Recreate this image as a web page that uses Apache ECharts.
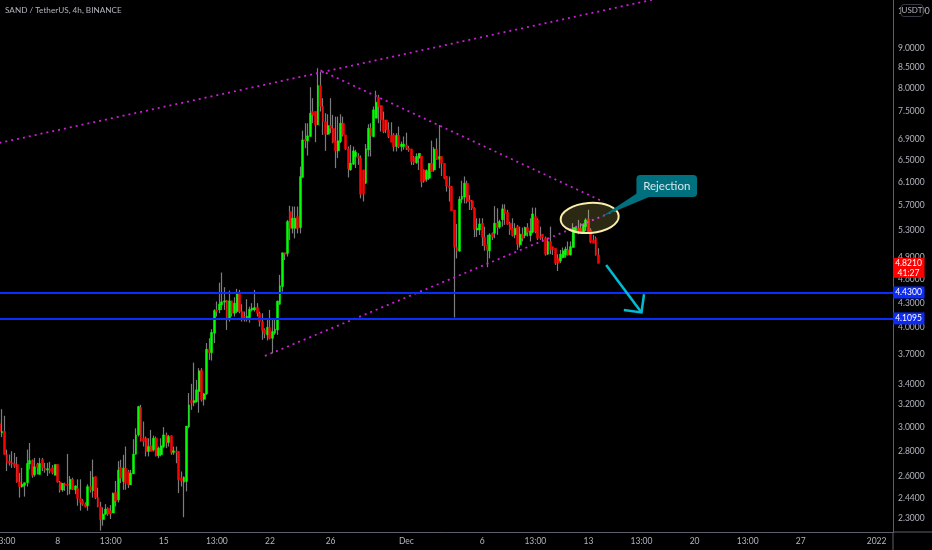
<!DOCTYPE html>
<html>
<head>
<meta charset="utf-8">
<title>SAND / TetherUS</title>
<style>
  html, body { margin: 0; padding: 0; background: #000; }
  #chart { width: 932px; height: 550px; }
</style>
<script src="https://cdn.jsdelivr.net/npm/echarts@6/dist/echarts.min.js"></script>
</head>
<body>
<div id="chart"></div>
<script>
// 4h bars, open / close / low / high
const candles = [
  [3.028,2.962,2.962,3.063],[2.948,2.962,2.914,3.159],[2.962,2.770,2.770,3.099],[2.770,2.704,2.640,2.810],
  [2.717,2.704,2.683,2.770],[2.704,2.696,2.665,2.797],[2.699,2.678,2.665,2.783],[2.691,2.558,2.553,2.751],
  [2.558,2.524,2.445,2.628],[2.524,2.541,2.517,2.665],[2.534,2.553,2.452,2.553],[2.553,2.699,2.524,2.810],
  [2.696,2.722,2.653,2.864],[2.722,2.608,2.590,2.730],[2.613,2.673,2.598,2.743],[2.691,2.670,2.615,2.704],
  [2.615,2.699,2.615,2.743],[2.730,2.665,2.640,2.743],[2.665,2.648,2.628,2.704],[2.648,2.658,2.603,2.704],
  [2.658,2.640,2.622,2.712],[2.665,2.628,2.615,2.686],[2.608,2.691,2.608,2.691],[2.691,2.558,2.553,2.691],
  [2.558,2.500,2.481,2.566],[2.500,2.548,2.486,2.548],[2.541,2.534,2.493,2.553],[2.541,2.534,2.462,2.775],
  [2.505,2.578,2.469,2.603],[2.578,2.505,2.500,2.590],[2.500,2.529,2.469,2.534],[2.510,2.439,2.388,2.578],
  [2.439,2.411,2.354,2.578],[2.422,2.399,2.388,2.434],[2.399,2.381,2.377,2.411],[2.388,2.524,2.354,2.541],
  [2.524,2.500,2.481,2.640],[2.493,2.595,2.445,2.730],[2.598,2.445,2.434,2.598],[2.445,2.381,2.377,2.517],
  [2.381,2.294,2.222,2.415],[2.294,2.331,2.254,2.377],[2.331,2.365,2.325,2.399],[2.370,2.331,2.320,2.377],
  [2.354,2.331,2.298,2.392],[2.338,2.476,2.338,2.481],[2.481,2.422,2.383,2.566],[2.429,2.648,2.411,2.717],
  [2.670,2.587,2.549,2.728],[2.562,2.663,2.501,2.768],[2.663,2.549,2.501,2.835],[2.637,2.537,2.513,2.650],
  [2.537,2.624,2.537,2.650],[2.619,2.773,2.619,2.896],[2.773,2.932,2.768,2.989],[2.932,3.183,2.918,3.190],
  [3.174,2.882,2.876,3.199],[2.904,2.876,2.835,3.048],[2.904,2.795,2.755,2.918],[2.795,2.835,2.755,2.904],
  [2.841,2.795,2.795,2.975],[2.808,2.904,2.795,2.926],[2.904,2.760,2.755,2.918],[2.760,2.822,2.741,2.835],
  [2.768,2.841,2.755,2.904],[2.835,2.932,2.822,2.999],[2.932,2.868,2.822,2.952],[2.868,2.918,2.835,2.932],
  [2.926,2.787,2.768,2.926],[2.787,2.800,2.768,2.835],[2.795,2.787,2.701,2.835],[2.795,2.574,2.477,2.795],
  [2.587,2.567,2.525,2.637],[2.557,2.594,2.310,2.600],[2.562,3.008,2.489,3.008],[3.002,3.198,2.989,3.310],
  [3.239,3.220,3.153,3.400],[3.220,3.239,3.186,3.615],[3.229,3.341,3.220,3.439],[3.325,3.530,3.127,3.558],
  [3.534,3.245,3.229,3.558],[3.251,3.303,3.192,3.310],[3.303,3.758,3.293,3.826],[3.758,3.722,3.644,3.880],
  [3.722,3.945,3.637,3.983],[3.937,4.204,3.825,4.220],[4.212,4.192,4.132,4.316],[4.212,4.283,4.172,4.558],
  [4.275,4.312,4.212,4.694],[4.308,4.324,4.212,4.498],[4.328,4.100,3.975,4.336],[4.100,4.324,4.072,4.455],
  [4.324,4.172,4.132,4.324],[4.172,4.295,4.132,4.370],[4.192,4.420,4.172,4.477],[4.420,4.192,4.172,4.464],
  [4.192,4.092,4.072,4.283],[4.132,4.120,4.072,4.192],[4.120,4.132,4.072,4.345],[4.120,4.220,4.060,4.252],
  [4.212,4.232,4.192,4.295],[4.212,4.240,4.192,4.464],[4.244,4.172,4.132,4.295],[4.172,4.072,4.013,4.192],
  [4.072,3.967,3.862,4.172],[3.975,3.929,3.880,3.994],[3.918,4.005,3.855,4.112],[4.005,3.880,3.869,4.212],
  [3.880,3.956,3.715,4.100],[3.937,3.983,3.918,4.112],[3.975,4.320,3.918,4.328],[4.283,4.516,4.275,4.662],
  [4.507,4.971,4.442,4.971],[4.971,4.951,4.868,4.971],[4.961,5.441,4.916,5.467],[5.600,5.336,5.159,5.695],
  [5.336,5.494,5.257,5.684],[5.336,5.494,5.183,5.684],[5.520,5.336,5.257,5.684],[5.347,6.198,5.257,6.380],
  [6.186,6.893,6.186,7.081],[6.908,6.875,6.730,7.235],[6.875,6.975,6.588,7.235],[6.962,7.448,6.962,8.030],
  [7.485,7.412,7.235,7.780],[7.485,7.200,6.848,7.485],[7.200,8.070,7.200,8.485],[8.070,7.594,7.485,8.400],
  [7.594,7.270,6.995,7.780],[7.270,7.008,6.678,7.448],[7.008,7.186,6.995,7.426],[7.186,7.130,7.030,7.780],
  [7.130,6.848,6.828,7.412],[6.875,6.678,6.352,7.375],[6.678,6.875,6.540,7.375],[6.862,7.235,6.828,7.426],
  [7.235,6.995,6.962,7.375],[6.995,6.717,6.698,6.995],[6.717,6.340,6.183,6.763],[6.322,6.443,6.304,6.795],
  [6.425,6.678,6.413,6.763],[6.570,6.653,6.352,6.698],[6.570,6.540,6.413,6.633],[6.540,5.890,5.820,6.590],
  [6.320,5.890,5.767,6.320],[6.081,6.717,6.064,6.810],[6.698,7.130,6.570,7.213],[7.130,6.975,6.570,7.235],
  [6.962,7.520,6.948,7.594],[7.340,7.690,7.340,7.950],[7.800,7.594,7.235,7.854],[7.615,7.305,7.063,7.615],
  [7.305,7.063,7.030,7.485],[7.305,7.096,7.030,7.305],[7.096,6.962,6.928,7.255],[6.982,6.848,6.848,7.255],
  [6.995,6.762,6.667,7.030],[6.762,6.982,6.667,7.030],[6.982,6.762,6.730,7.165],[6.762,6.810,6.667,6.860],
  [6.762,6.810,6.698,6.962],[6.790,6.730,6.696,7.040],[6.730,6.696,6.660,6.775],[6.716,6.473,6.410,6.716],
  [6.555,6.454,6.410,6.580],[6.454,6.570,6.430,6.630],[6.537,6.630,6.319,6.630],[6.580,6.108,6.010,6.580],
  [6.319,6.120,6.090,6.330],[6.150,6.306,6.108,6.330],[6.168,6.440,6.138,6.440],[6.440,6.288,6.288,6.880],
  [6.319,6.710,6.288,6.750],[6.710,6.518,6.505,6.925],[6.518,6.570,6.350,7.198],[6.570,6.440,6.210,6.570],
  [6.440,6.168,6.150,6.440],[6.200,6.030,5.935,6.210],[6.030,6.010,5.765,6.200],[6.020,5.615,5.615,6.030],
  [5.627,5.050,4.120,5.627],[5.050,4.995,4.890,5.405],[4.995,5.805,4.985,5.855],[5.805,5.855,5.735,6.125],
  [5.840,6.080,5.735,6.200],[6.080,5.765,5.735,6.125],[5.793,5.765,5.627,5.875],[5.780,5.655,5.627,5.793],
  [5.655,5.320,5.200,5.670],[5.310,5.336,5.205,5.494],[5.310,5.404,5.233,5.494],[5.415,5.200,5.070,5.494],
  [5.200,5.070,5.000,5.362],[5.085,5.011,4.767,5.235],[5.000,5.235,4.890,5.260],[5.260,5.200,5.159,5.270],
  [5.260,5.415,5.185,5.690],[5.415,5.350,5.235,5.655],[5.355,5.440,5.330,5.470],[5.470,5.645,5.362,5.720],
  [5.645,5.575,5.389,5.720],[5.590,5.400,5.389,5.630],[5.415,5.310,5.235,5.440],[5.336,5.225,5.210,5.493],
  [5.235,5.336,5.185,5.415],[5.362,5.095,5.012,5.389],[5.086,5.245,5.047,5.362],[5.245,5.185,5.136,5.347],
  [5.225,5.347,5.185,5.362],[5.347,5.275,5.210,5.415],[5.225,5.295,5.136,5.493],[5.275,5.563,5.260,5.665],
  [5.520,5.285,5.260,5.665],[5.467,5.185,5.160,5.493],[5.210,5.185,5.160,5.362],[5.245,5.195,5.136,5.245],
  [5.185,4.950,4.930,5.210],[4.950,5.136,4.940,5.195],[5.136,5.012,4.950,5.362],[5.060,5.012,4.940,5.060],
  [5.037,4.823,4.799,5.037],[4.893,4.823,4.715,4.950],[4.856,4.950,4.823,5.012],[4.900,5.000,4.893,5.047],
  [4.940,5.025,4.900,5.060],[5.012,4.940,4.930,5.136],[4.940,5.060,4.930,5.136],[5.047,5.347,5.047,5.415],
  [5.295,5.347,5.260,5.362],[5.336,5.295,5.245,5.467],[5.336,5.285,5.260,5.415],[5.275,5.389,5.260,5.415],
  [5.362,5.467,5.295,5.493],[5.483,5.275,5.260,5.630],[5.310,5.125,5.110,5.336],[5.160,5.110,5.110,5.235],
  [5.185,4.940,4.930,5.210],[4.940,4.821,4.821,5.037]
];
const barCount = 354; // empty bars continue to the right edge

const timeTickBars = [2, 23, 44, 65, 86, 107, 131, 161, 191, 212, 233, 254, 275, 296, 317, 347];
const timeTickLabels = ["13:00", "8", "13:00", "15", "13:00", "22", "26", "Dec", "6", "13:00", "13", "13:00", "20", "13:00", "27", "2022"];
const priceTicks = [10, 9, 8.5, 8, 7.5, 6.9, 6.5, 6.1, 5.7, 5.3, 4.9, 4.6, 4.3, 4, 3.7, 3.4, 3.2, 3, 2.8, 2.6, 2.44, 2.3];

const supportLevels = [4.43, 4.1095];
const lastPrice = 4.821;
const countdown = "41:27";

// [bar, price] drawing anchors
const upperChannel = [[0, 6.834], [259, 10.36]];
const fallingLine = [[127, 8.434], [239, 5.761]];
const risingLine = [[105, 3.686], [244, 5.621]];
const ellipseBox = [[221.9, 5.743], [245.1, 5.264]];
const calloutBox = [[252.3, 6.228], [275.6, 5.844]];
const calloutTail = [[238, 5.514], [252.5, 5.929], [256.6, 5.844]];
const arrowShaft = [[240, 4.798], [254.1, 4.181]];
const arrowHead = [[247.3, 4.211], [254.1, 4.181], [255.1, 4.407]];

const categories = [];
for (let i = 0; i < barCount; i++) categories.push(String(i));

const textColor = "#b2b5be";
const fontFamily = "Lato, sans-serif";

function trendSeries(points) {
  return {
    type: "line",
    data: points,
    symbol: "none",
    silent: true,
    z: 4,
    lineStyle: { color: "#cc1fd6", width: 1.8, type: [2, 4] }
  };
}

function renderDrawings(params, api) {
  const pt = p => api.coord(p);
  const a = pt(ellipseBox[0]);
  const b = pt(ellipseBox[1]);
  const c = pt(calloutBox[0]);
  const d = pt(calloutBox[1]);
  return {
    type: "group",
    children: [
      {
        type: "ellipse",
        originX: (a[0] + b[0]) / 2,
        originY: (a[1] + b[1]) / 2,
        rotation: 0.07,
        shape: { cx: (a[0] + b[0]) / 2, cy: (a[1] + b[1]) / 2, rx: (b[0] - a[0]) / 2, ry: (b[1] - a[1]) / 2 },
        style: { fill: "rgba(255, 235, 120, 0.17)", stroke: "#f8eeaa", lineWidth: 2 }
      },
      {
        type: "polygon",
        shape: { points: calloutTail.map(pt) },
        style: { fill: "#00707f" }
      },
      {
        type: "rect",
        shape: { x: c[0], y: c[1], width: d[0] - c[0], height: d[1] - c[1], r: 4 },
        style: { fill: "#00707f" }
      },
      {
        type: "text",
        style: {
          x: (c[0] + d[0]) / 2, y: (c[1] + d[1]) / 2, text: "Rejection",
          fill: "#d3e8ea", font: "11.5px " + fontFamily, align: "center", verticalAlign: "middle"
        }
      },
      {
        type: "polyline",
        shape: { points: arrowShaft.map(pt) },
        style: { stroke: "#00bcd4", lineWidth: 2.5, fill: "none" }
      },
      {
        type: "polyline",
        shape: { points: arrowHead.map(pt) },
        style: { stroke: "#00bcd4", lineWidth: 2.5, fill: "none" }
      }
    ]
  };
}

function priceTag(x, y, lines, fill) {
  const h = lines.length === 1 ? 12 : 20;
  const top = y - 5.5;
  const children = [{
    type: "rect",
    shape: { x: x, y: lines.length === 1 ? y - 6 : top, width: 31.5, height: h },
    style: { fill: fill }
  }];
  lines.forEach((line, i) => children.push({
    type: "text",
    style: {
      x: x + 15.5, y: y + i * 10, text: line, fill: "#ffffff",
      font: "8.5px " + fontFamily, align: "center", verticalAlign: "middle"
    }
  }));
  return children;
}

function renderTags(params, api) {
  const x = params.coordSys.x + params.coordSys.width;
  let children = [];
  supportLevels.forEach(v => {
    children = children.concat(priceTag(x, api.coord([0, v])[1], [v.toFixed(4)], "#0d2bf5"));
  });
  children = children.concat(priceTag(x, api.coord([0, lastPrice])[1], [lastPrice.toFixed(4), countdown], "#ff0000"));
  return { type: "group", children: children };
}

const chart = echarts.init(document.getElementById("chart"));
chart.setOption({
  animation: false,
  backgroundColor: "#000000",
  textStyle: { fontFamily: fontFamily },
  title: {
    text: "SAND / TetherUS, 4h, BINANCE",
    left: 5,
    top: 6,
    padding: 0,
    textStyle: { color: textColor, fontSize: 8.2, fontWeight: "normal", fontFamily: fontFamily }
  },
  grid: { left: -1.8, right: 39, top: 0, bottom: 18, outerBoundsMode: "none" },
  xAxis: {
    type: "category",
    data: categories,
    splitLine: { show: false },
    axisTick: { show: false },
    axisLine: { lineStyle: { color: "#5d606b", width: 1 } },
    axisLabel: {
      color: textColor,
      fontSize: 8.5,
      margin: 5,
      interval: i => timeTickBars.includes(i),
      formatter: (v, i) => timeTickLabels[timeTickBars.indexOf(i)]
    }
  },
  yAxis: {
    type: "log",
    logBase: 10,
    position: "right",
    min: 2.213,
    max: 10.34,
    splitLine: { show: false },
    minorTick: { show: false },
    axisTick: { show: false },
    axisLine: { show: true, lineStyle: { color: "#5d606b", width: 1 } },
    axisLabel: {
      color: textColor,
      fontSize: 8.5,
      margin: 5,
      customValues: priceTicks,
      formatter: v => Number(v).toFixed(4)
    }
  },
  graphic: [
    { type: "line", shape: { x1: 893, y1: 532, x2: 932, y2: 532 }, style: { stroke: "#5d606b" } },
    { type: "line", shape: { x1: 893, y1: 532, x2: 893, y2: 550 }, style: { stroke: "#5d606b" } },
    {
      type: "rect", z: 50,
      shape: { x: 901, y: 4.5, width: 22, height: 12, r: 3 },
      style: { fill: "#000000", stroke: "#363a45" }
    },
    {
      type: "text", z: 51,
      style: { x: 912, y: 10.5, text: "USDT", fill: textColor, font: "8px " + fontFamily, align: "center", verticalAlign: "middle" }
    }
  ],
  series: [
    // wicks
    {
      type: "candlestick",
      data: candles,
      barWidth: 1,
      silent: true,
      z: 2,
      itemStyle: { color: "#7c7c7c", color0: "#7c7c7c", borderColor: "#7c7c7c", borderColor0: "#7c7c7c", borderWidth: 1.2 }
    },
    // bodies
    {
      type: "candlestick",
      data: candles.map(([o, c]) => [o, c, Math.min(o, c), Math.max(o, c)]),
      barWidth: 2.4,
      silent: true,
      z: 3,
      itemStyle: { color: "#00ff00", color0: "#ff0000", borderColor: "#00ff00", borderColor0: "#ff0000", borderWidth: 0.5 }
    },
    trendSeries(upperChannel),
    trendSeries(fallingLine),
    trendSeries(risingLine),
    {
      type: "line",
      data: [],
      silent: true,
      symbol: "none",
      z: 5,
      markLine: {
        silent: true,
        symbol: "none",
        animation: false,
        label: { show: false },
        lineStyle: { color: "#0a2dff", width: 2.2, type: "solid" },
        data: supportLevels.map(v => ({ yAxis: v }))
      }
    },
    { type: "custom", data: [[0, 5]], silent: true, z: 6, renderItem: renderDrawings },
    { type: "custom", data: [[0, 5]], silent: true, z: 7, renderItem: renderTags }
  ]
});
</script>
</body>
</html>
